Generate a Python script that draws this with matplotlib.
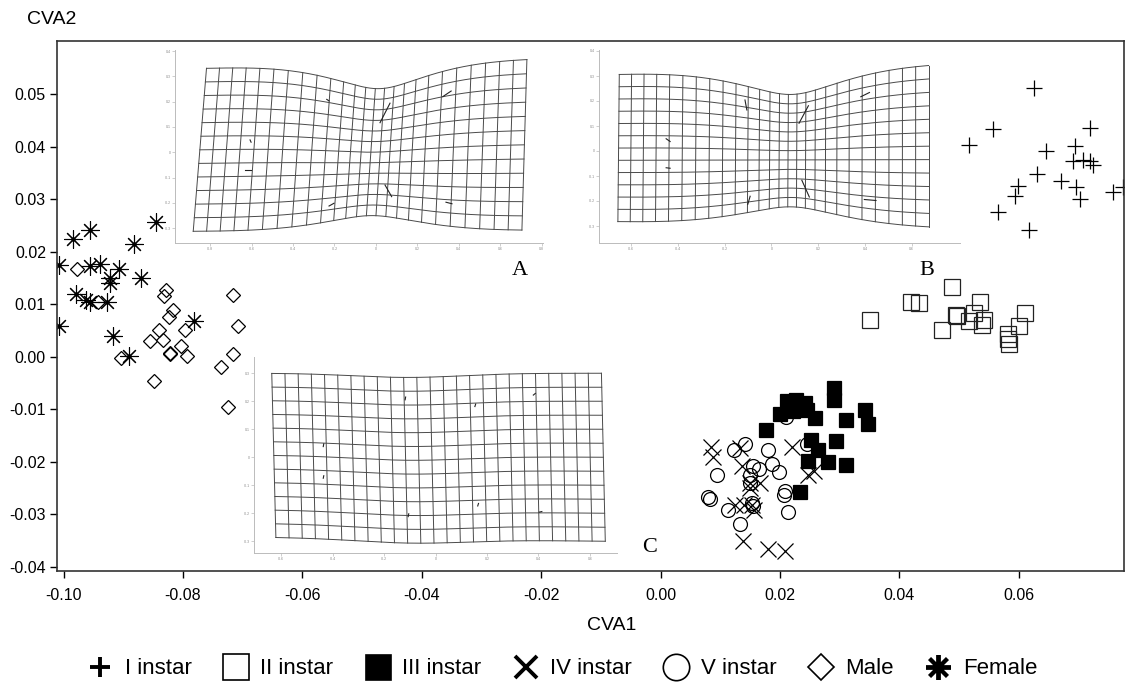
import numpy as np
import matplotlib
matplotlib.use("Agg")
import matplotlib.pyplot as plt
from matplotlib.lines import Line2D

plt.rcParams["font.family"] = ["Liberation Sans", "DejaVu Sans"]
plt.rcParams["axes.unicode_minus"] = False

# ---- scores (CVA1, CVA2) ----
instar1_x = [0.0625, 0.0556, 0.0517, 0.0719, 0.0694, 0.0646, 0.0691, 0.0707, 0.0719, 0.0724,
             0.0630, 0.0671, 0.0695, 0.0599, 0.0593, 0.0703, 0.0758, 0.0774, 0.0565, 0.0617]
instar1_y = [0.0511, 0.0434, 0.0403, 0.0436, 0.0401, 0.0392, 0.0373, 0.0375, 0.0373, 0.0365,
             0.0348, 0.0334, 0.0324, 0.0325, 0.0305, 0.0300, 0.0313, 0.0323, 0.0276, 0.0242]

instar2_x = [0.0488, 0.0351, 0.0420, 0.0433, 0.0535, 0.0525, 0.0495, 0.0496, 0.0517, 0.0542,
             0.0538, 0.0471, 0.0610, 0.0600, 0.0581, 0.0581, 0.0584]
instar2_y = [0.0132, 0.0070, 0.0105, 0.0102, 0.0104, 0.0084, 0.0080, 0.0078, 0.0068, 0.0070,
             0.0060, 0.0051, 0.0083, 0.0059, 0.0043, 0.0034, 0.0024]

instar3_x = [0.0290, 0.0290, 0.0211, 0.0227, 0.0242, 0.0245, 0.0200, 0.0222, 0.0259, 0.0177,
             0.0310, 0.0342, 0.0347, 0.0251, 0.0293, 0.0263, 0.0246, 0.0280, 0.0310, 0.0233]
instar3_y = [-0.0060, -0.0082, -0.0085, -0.0083, -0.0088, -0.0101, -0.0110, -0.0104, -0.0117, -0.0139,
             -0.0120, -0.0101, -0.0129, -0.0158, -0.0161, -0.0177, -0.0199, -0.0201, -0.0207, -0.0258]

instar4_x = [0.0084, 0.0088, 0.0133, 0.0220, 0.0137, 0.0150, 0.0167, 0.0150, 0.0247, 0.0256,
             0.0125, 0.0139, 0.0153, 0.0156, 0.0138, 0.0180, 0.0208]
instar4_y = [-0.0172, -0.0191, -0.0174, -0.0172, -0.0209, -0.0240, -0.0240, -0.0250, -0.0225, -0.0218,
             -0.0283, -0.0282, -0.0283, -0.0291, -0.0350, -0.0367, -0.0370]

instar5_x = [0.0210, 0.0245, 0.0122, 0.0141, 0.0179, 0.0095, 0.0154, 0.0164, 0.0186, 0.0199,
             0.0149, 0.0149, 0.0208, 0.0206, 0.0080, 0.0083, 0.0112, 0.0153, 0.0155, 0.0214, 0.0133]
instar5_y = [-0.0114, -0.0166, -0.0177, -0.0166, -0.0177, -0.0226, -0.0209, -0.0214, -0.0204, -0.0220,
             -0.0226, -0.0240, -0.0256, -0.0263, -0.0267, -0.0271, -0.0292, -0.0278, -0.0285, -0.0296, -0.0318]

male_x = [-0.0977, -0.0828, -0.0831, -0.0716, -0.0817, -0.0823, -0.0943, -0.0708, -0.0840, -0.0796,
          -0.0856, -0.0833, -0.0804, -0.0822, -0.0821, -0.0793, -0.0717, -0.0903, -0.0737, -0.0848, -0.0725]
male_y = [0.0167, 0.0127, 0.0116, 0.0118, 0.0089, 0.0076, 0.0104, 0.0058, 0.0051, 0.0050,
          0.0029, 0.0032, 0.0021, 0.0007, 0.0005, 0.0001, 0.0006, -0.0002, -0.0020, -0.0046, -0.0096]

female_x = [-0.1008, -0.0984, -0.0956, -0.0846, -0.0882, -0.0956, -0.0939, -0.0907, -0.0922, -0.0922,
            -0.0871, -0.0980, -0.0963, -0.0956, -0.0928, -0.1008, -0.0918, -0.0782, -0.0891]
female_y = [0.0175, 0.0224, 0.0242, 0.0257, 0.0215, 0.0173, 0.0177, 0.0167, 0.0150, 0.0141,
            0.0150, 0.0120, 0.0107, 0.0105, 0.0105, 0.0058, 0.0039, 0.0068, 0.0001]

x_ticks = [-0.10, -0.08, -0.06, -0.04, -0.02, 0.00, 0.02, 0.04, 0.06]
y_ticks = [-0.04, -0.03, -0.02, -0.01, 0.00, 0.01, 0.02, 0.03, 0.04, 0.05]

# landmark displacement vectors drawn inside the deformation grids (x0, y0, x1, y1)
vectors_a = [(-0.237, 0.209, -0.226, 0.203), (0.020, 0.117, 0.068, 0.194), (0.323, 0.220, 0.363, 0.242),
             (-0.607, 0.049, -0.602, 0.040), (-0.631, -0.070, -0.604, -0.070), (-0.226, -0.212, -0.202, -0.201),
             (0.044, -0.129, 0.076, -0.175), (0.338, -0.197, 0.367, -0.203)]
vectors_b = [(-0.113, 0.204, -0.105, 0.164), (0.118, 0.111, 0.158, 0.181), (0.382, 0.217, 0.419, 0.234),
             (-0.450, 0.049, -0.433, 0.038), (-0.450, -0.067, -0.433, -0.069), (-0.091, -0.181, -0.101, -0.213),
             (0.130, -0.117, 0.162, -0.184), (0.397, -0.194, 0.447, -0.198)]
vectors_c = [(-0.118, 0.205, -0.116, 0.215), (0.153, 0.181, 0.156, 0.190), (0.380, 0.222, 0.388, 0.228),
             (-0.436, 0.038, -0.434, 0.048), (-0.436, -0.075, -0.434, -0.066), (-0.106, -0.212, -0.104, -0.202),
             (0.164, -0.174, 0.167, -0.165), (0.403, -0.196, 0.413, -0.194)]

W, H = 1127, 684
fig = plt.figure(figsize=(W / 100, H / 100), dpi=100)


def px_axes(x0, y0, x1, y1):
    # pixel box (left, top, right, bottom) -> figure fraction
    return [x0 / W, 1 - y1 / H, (x1 - x0) / W, (y1 - y0) / H]


ax = fig.add_axes(px_axes(57, 41, 1124, 571))
ax.set_xlim(-0.1011, 0.0776)
ax.set_ylim(-0.0408, 0.0601)

lw = 0.9
ax.plot(instar1_x, instar1_y, ls="none", marker="+", ms=12, mew=lw, color="black")
ax.plot(instar2_x, instar2_y, ls="none", marker="s", ms=11, mew=lw, mfc="none", mec="#222222")
ax.plot(instar3_x, instar3_y, ls="none", marker="s", ms=10, mew=lw, mfc="black", mec="black")
ax.plot(instar4_x, instar4_y, ls="none", marker="x", ms=11, mew=lw, color="black")
ax.plot(instar5_x, instar5_y, ls="none", marker="o", ms=10, mew=lw, mfc="none", mec="black")
ax.plot(male_x, male_y, ls="none", marker="D", ms=7.6, mew=lw, mfc="none", mec="black")
ax.plot(female_x, female_y, ls="none", marker=(8, 2, 0), ms=13, mew=0.8, color="black")
ax.plot(female_x, female_y, ls="none", marker="o", ms=2, color="black")

ax.set_xticks(x_ticks)
ax.set_xticklabels([f"{v:.2f}" for v in x_ticks])
ax.set_yticks(y_ticks)
ax.set_yticklabels([f"{v:.2f}" for v in y_ticks])
ax.tick_params(axis="x", direction="out", length=5, width=1, pad=7, labelsize=11.5)
ax.tick_params(axis="y", direction="out", length=5, width=1, pad=3, labelsize=11.5)
for s in ax.spines.values():
    s.set_linewidth(1.2)
    s.set_color("#333333")

fig.text(52 / W, 1 - 19 / H, "CVA2", ha="center", va="center", fontsize=14)
fig.text(612 / W, 1 - 626 / H, "CVA1", ha="center", va="center", fontsize=14)

# panel letters
for lab, lx, ly in [("A", -0.0235, 0.0165), ("B", 0.0445, 0.0165), ("C", -0.0018, -0.0363)]:
    ax.text(lx, ly, lab, ha="center", va="center", fontsize=16, family="Liberation Serif")


def draw_grid(iax, p, vectors, ncols, nrows):
    u0, u1 = p["u0"], p["u1"]

    def warp(u, v):
        g = np.exp(-((u - p["pc"]) / p["ps"]) ** 2)
        t = (u - u0) / (u1 - u0)
        yc = p["c0"] + (p["c1"] - p["c0"]) * t + p["cp"] * g
        h = p["h0"] + (p["h1"] - p["h0"]) * t - p["hp"] * g
        x = u + v * (p["s0"] + (p["s1"] - p["s0"]) * t) - p["xc"] * (u - p["pc"]) * g
        return x, yc + v * h

    uu = np.linspace(u0, u1, 200)
    vv = np.linspace(-1, 1, 100)
    for v in np.linspace(-1, 1, nrows + 1):
        x, y = warp(uu, np.full_like(uu, v))
        iax.plot(x, y, color="#4a4a4a", lw=0.7)
    for u in np.linspace(u0, u1, ncols + 1):
        x, y = warp(np.full_like(vv, u), vv)
        iax.plot(x, y, color="#4a4a4a", lw=0.7)
    for x0, y0, x1, y1 in vectors:
        iax.plot([x0, x1], [y0, y1], color="#222222", lw=0.8)


def style_inset(iax, xt, yt):
    iax.set_facecolor("none")
    iax.spines["top"].set_visible(False)
    iax.spines["right"].set_visible(False)
    for s in ("left", "bottom"):
        iax.spines[s].set_color("#bbbbbb")
        iax.spines[s].set_linewidth(0.7)
    iax.set_xticks(xt)
    iax.set_yticks(yt)
    iax.set_xticklabels([f"{v:g}" for v in xt])
    iax.set_yticklabels([f"{v:g}" for v in yt])
    iax.tick_params(length=2, width=0.4, color="#aaaaaa", labelsize=2.5, labelcolor="#888888", pad=1)


# inset A
iaA = fig.add_axes(px_axes(175, 50, 543, 243))
iaA.set_xlim(-0.969, 0.806)
iaA.set_ylim(-0.358, 0.404)
style_inset(iaA, [-0.8, -0.6, -0.4, -0.2, 0, 0.2, 0.4, 0.6, 0.8], [-0.3, -0.2, -0.1, 0, 0.1, 0.2, 0.3, 0.4])
draw_grid(iaA, dict(u0=-0.85, u1=0.72, c0=0.01, c1=0.03, cp=-0.02, h0=0.322, h1=0.338, hp=0.08,
                    s0=0.032, s1=0.012, xc=0.28, pc=0.0, ps=0.36), vectors_a, 25, 12)

# inset B
iaB = fig.add_axes(px_axes(599, 50, 960, 243))
iaB.set_xlim(-0.737, 0.806)
iaB.set_ylim(-0.368, 0.404)
style_inset(iaB, [-0.6, -0.4, -0.2, 0, 0.2, 0.4, 0.6], [-0.3, -0.2, -0.1, 0, 0.1, 0.2, 0.3, 0.4])
draw_grid(iaB, dict(u0=-0.655, u1=0.68, c0=0.012, c1=0.02, cp=-0.015, h0=0.295, h1=0.327, hp=0.088,
                    s0=0.003, s1=0.0, xc=0.28, pc=0.09, ps=0.34), vectors_b, 26, 12)

# inset C
iaC = fig.add_axes(px_axes(254, 357, 617, 553))
iaC.set_xlim(-0.705, 0.705)
iaC.set_ylim(-0.342, 0.358)
style_inset(iaC, [-0.6, -0.4, -0.2, 0, 0.2, 0.4, 0.6], [-0.3, -0.2, -0.1, 0, 0.1, 0.2, 0.3])
draw_grid(iaC, dict(u0=-0.628, u1=0.652, c0=0.007, c1=0.0, cp=-0.015, h0=0.293, h1=0.3, hp=0.0,
                    s0=-0.008, s1=-0.0075, xc=0.0, pc=-0.1, ps=0.3), vectors_c, 25, 12)

# legend
handles = [
    Line2D([], [], ls="none", marker="+", ms=15, mew=2.8, color="black"),
    Line2D([], [], ls="none", marker="s", ms=19, mew=1.2, mfc="none", mec="black"),
    Line2D([], [], ls="none", marker="s", ms=18, mew=1.2, mfc="black", mec="black"),
    Line2D([], [], ls="none", marker="x", ms=16, mew=2.8, color="black"),
    Line2D([], [], ls="none", marker="o", ms=19, mew=1.2, mfc="none", mec="black"),
    Line2D([], [], ls="none", marker="D", ms=13, mew=1.2, mfc="none", mec="black"),
    Line2D([], [], ls="none", marker=(8, 2, 0), ms=18, mew=2.8, color="black"),
]
labels = ["I instar", "II instar", "III instar", "IV instar", "V instar", "Male", "Female"]
fig.legend(handles, labels, loc="center", bbox_to_anchor=(562 / W, 1 - 669 / H), ncol=7, frameon=False,
           fontsize=16, handlelength=1.2, handletextpad=0.5, columnspacing=1.4, borderpad=0)

fig.savefig("out.png", dpi=100)
